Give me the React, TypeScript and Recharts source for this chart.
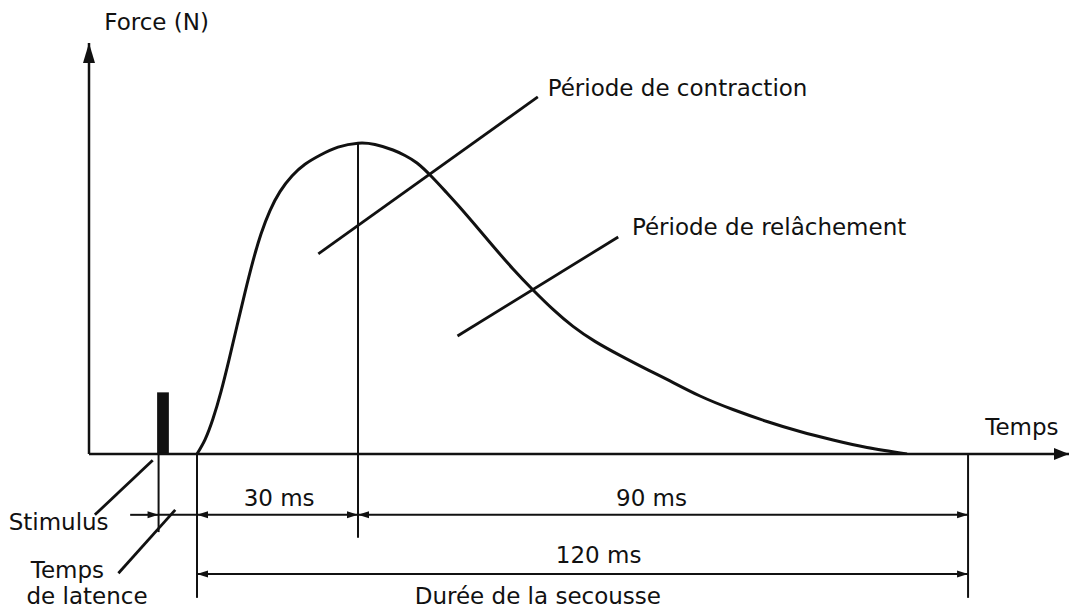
import { ComposedChart, Line, XAxis, YAxis, ReferenceLine, ReferenceArea, ReferenceDot } from 'recharts'

const INK = '#111'
const FONT = '"DejaVu Sans", Arial, sans-serif'

// schematic twitch: time in arbitrary units (0-100 along the axis), force in % of axis height
const time = [
  11.02, 11.84, 12.65, 13.47, 14.29, 15.1, 15.92, 16.73, 17.55, 18.47, 19.49, 20.71, 22.04, 23.57, 25.41, 27.45,
  29.18, 31.02, 32.24, 33.47, 35.0, 36.43, 37.86, 39.49, 41.22, 43.27, 45.31, 47.35, 49.39, 51.63, 54.18, 56.73,
  58.98, 62.35, 65.71, 69.18, 72.55, 75.92, 79.39, 83.47,
]
const force = [
  0, 3.5, 8.56, 15.18, 22.97, 31.14, 39.32, 46.91, 53.53, 59.22, 63.84, 67.64, 70.49, 72.68, 74.65, 75.62,
  75.3, 73.97, 72.63, 70.8, 67.4, 63.75, 59.98, 55.47, 50.61, 45.01, 39.9, 35.18, 31.05, 27.4, 23.99, 20.83,
  18.15, 14.11, 10.83, 7.91, 5.47, 3.41, 1.58, 0,
]

// key instants on the time axis
const stimulusT = 7.1
const onsetT = 11.02
const peakT = 27.45
const peakF = 75.62
const endT = 89.7

// rows below the axis (force units, negative = under the time axis)
const rowShort = -14.8
const rowLong = -29.2

const data = time.map((t, i) => ({ t, f: force[i] }))

type Pt = { x: number; y: number }

function head(tip: Pt, from: Pt, len: number, half: number) {
  const dx = tip.x - from.x
  const dy = tip.y - from.y
  const d = Math.hypot(dx, dy) || 1
  const ux = dx / d
  const uy = dy / d
  const bx = tip.x - ux * len
  const by = tip.y - uy * len
  return `${tip.x},${tip.y} ${bx - uy * half},${by + ux * half} ${bx + uy * half},${by - ux * half}`
}

const arrow = (start: boolean, end: boolean, sw = 2, len = 11, half = 3.5) => (p: any) => {
  const a = { x: p.x1, y: p.y1 }
  const b = { x: p.x2, y: p.y2 }
  return (
    <g>
      <line x1={a.x} y1={a.y} x2={b.x} y2={b.y} stroke={INK} strokeWidth={sw} />
      {start && <polygon points={head(a, b, len, half)} fill={INK} />}
      {end && <polygon points={head(b, a, len, half)} fill={INK} />}
    </g>
  )
}

const label = (text: string, anchor: 'start' | 'middle' | 'end' = 'middle') => (p: any) => (
  <text x={p.cx} y={p.cy} textAnchor={anchor} dominantBaseline="central" fontFamily={FONT} fontSize={23} fill={INK}>
    {text}
  </text>
)

const texts: { text: string; x: number; y: number; anchor?: 'start' | 'middle' | 'end' }[] = [
  { text: 'Force (N)', x: 6.9, y: 105.1 },
  { text: 'Temps', x: 95.2, y: 6.6 },
  { text: 'Période de contraction', x: 46.8, y: 89.0, anchor: 'start' },
  { text: 'Période de relâchement', x: 55.4, y: 55.2, anchor: 'start' },
  { text: '30 ms', x: 19.4, y: -10.7 },
  { text: '90 ms', x: 57.4, y: -10.7 },
  { text: '120 ms', x: 52.0, y: -24.6 },
  { text: 'Durée de la secousse', x: 45.8, y: -34.6 },
  { text: 'Stimulus', x: -3.1, y: -16.5 },
  { text: 'Temps', x: -2.2, y: -28.3 },
  { text: 'de latence', x: -0.2, y: -34.6 },
]

// leader lines pointing at the labels
const leaders: [Pt, Pt][] = [
  [{ x: 23.4, y: 48.7 }, { x: 45.8, y: 86.9 }],
  [{ x: 37.6, y: 28.7 }, { x: 54.0, y: 52.8 }],
  [{ x: 6.5, y: -1.5 }, { x: 0.6, y: -14.8 }],
  [{ x: 8.8, y: -13.6 }, { x: 3.0, y: -29.0 }],
]

export default function App() {
  return (
    <div style={{ position: 'absolute', left: 0, top: 0, width: 1073, height: 610, background: '#fff' }}>
      <ComposedChart width={1073} height={610} data={data} margin={{ top: 43, right: 4, bottom: 156, left: 89 }}>
        <XAxis dataKey="t" type="number" domain={[0, 100]} hide />
        <YAxis type="number" domain={[0, 100]} hide allowDataOverflow />

        {/* axes with arrows */}
        <ReferenceLine segment={[{ x: 0, y: 0 }, { x: 0, y: 100 }]} ifOverflow="visible" shape={arrow(false, true, 2.5, 20, 6)} />
        <ReferenceLine segment={[{ x: 0, y: 0 }, { x: 100, y: 0 }]} ifOverflow="visible" shape={arrow(false, true, 2.5, 15, 6)} />

        {/* stimulus */}
        <ReferenceArea x1={stimulusT - 0.15} x2={stimulusT + 1.05} y1={0} y2={15} fill={INK} fillOpacity={1} stroke="none" ifOverflow="visible" />

        {/* vertical markers */}
        <ReferenceLine segment={[{ x: stimulusT, y: 0 }, { x: stimulusT, y: -19 }]} ifOverflow="visible" shape={arrow(false, false)} />
        <ReferenceLine segment={[{ x: onsetT, y: 0 }, { x: onsetT, y: -35 }]} ifOverflow="visible" shape={arrow(false, false)} />
        <ReferenceLine segment={[{ x: peakT, y: peakF }, { x: peakT, y: -20.4 }]} ifOverflow="visible" shape={arrow(false, false)} />
        <ReferenceLine segment={[{ x: endT, y: 0 }, { x: endT, y: -35 }]} ifOverflow="visible" shape={arrow(false, false)} />

        {/* duration arrows */}
        <ReferenceLine segment={[{ x: 4.2, y: rowShort }, { x: stimulusT, y: rowShort }]} ifOverflow="visible" shape={arrow(false, true)} />
        <ReferenceLine segment={[{ x: stimulusT, y: rowShort }, { x: onsetT, y: rowShort }]} ifOverflow="visible" shape={arrow(false, false)} />
        <ReferenceLine segment={[{ x: onsetT, y: rowShort }, { x: peakT, y: rowShort }]} ifOverflow="visible" shape={arrow(true, true)} />
        <ReferenceLine segment={[{ x: peakT, y: rowShort }, { x: endT, y: rowShort }]} ifOverflow="visible" shape={arrow(true, true)} />
        <ReferenceLine segment={[{ x: onsetT, y: rowLong }, { x: endT, y: rowLong }]} ifOverflow="visible" shape={arrow(true, true)} />

        {leaders.map((s, i) => (
          <ReferenceLine key={'l' + i} segment={s} ifOverflow="visible" shape={arrow(false, false, 2.8)} />
        ))}

        <Line type="natural" dataKey="f" stroke={INK} strokeWidth={3} dot={false} activeDot={false} isAnimationActive={false} />

        {texts.map((t, i) => (
          <ReferenceDot key={'t' + i} x={t.x} y={t.y} r={0} ifOverflow="visible" shape={label(t.text, t.anchor)} />
        ))}
      </ComposedChart>
    </div>
  )
}
